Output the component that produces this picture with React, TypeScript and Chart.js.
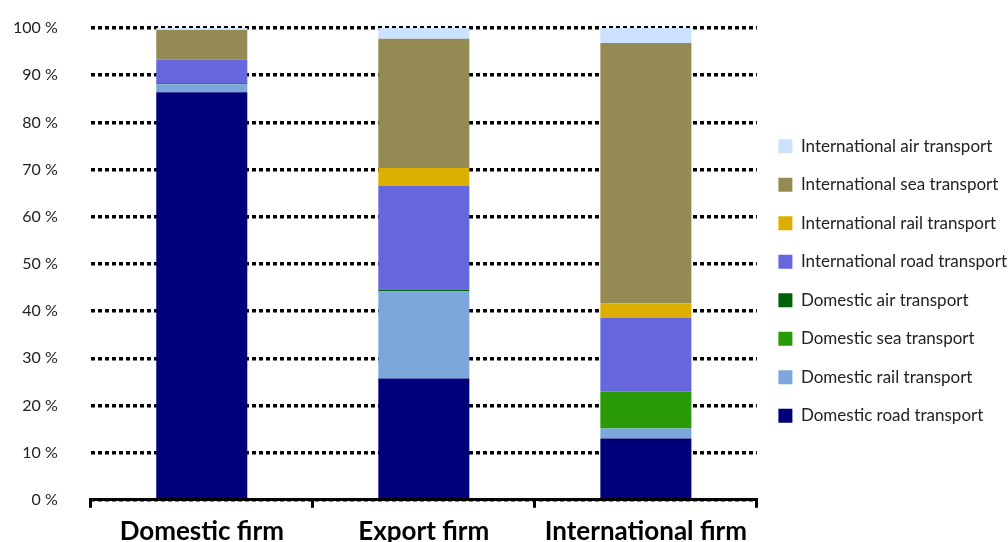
import React, { useEffect, useRef } from "react";
import { Chart, registerables } from "chart.js";

Chart.register(...registerables);

const categories = ["Domestic firm", "Export firm", "International firm"];
const seriesNames = [
  "Domestic road transport",
  "Domestic rail transport",
  "Domestic sea transport",
  "Domestic air transport",
  "International road transport",
  "International rail transport",
  "International sea transport",
  "International air transport",
];
const domesticRoad = [86.4, 25.7, 13.0];
const domesticRail = [1.7, 18.5, 2.1];
const domesticSea = [0, 0, 7.8];
const domesticAir = [0.2, 0.3, 0];
const internationalRoad = [5.0, 22.0, 15.7];
const internationalRail = [0, 3.8, 3.0];
const internationalSea = [6.3, 27.4, 55.2];
const internationalAir = [0.4, 2.3, 3.2];
const seriesColors = ["#00007A", "#7BA7DD", "#2A9A08", "#00600A", "#6666DD", "#DDAF00", "#948A54", "#CCE0FF"];
const yTicks = [0, 10, 20, 30, 40, 50, 60, 70, 80, 90, 100];

const seriesValues = [
  domesticRoad,
  domesticRail,
  domesticSea,
  domesticAir,
  internationalRoad,
  internationalRail,
  internationalSea,
  internationalAir,
];

export default function App() {
  const ref = useRef<HTMLCanvasElement | null>(null);
  useEffect(() => {
    if (!ref.current) return;
    const chart = new Chart(ref.current, {
      type: "bar",
      data: {
        labels: categories,
        datasets: seriesNames.map((name, i) => ({
          label: name,
          data: seriesValues[i],
          backgroundColor: seriesColors[i],
          borderWidth: 0,
          barPercentage: 0.41,
          categoryPercentage: 1,
        })),
      },
      options: {
        animation: false,
        responsive: true,
        maintainAspectRatio: false,
        layout: { padding: { top: 7, left: -5.4, right: -3, bottom: 0 } },
        plugins: {
          tooltip: { enabled: false },
          legend: {
            position: "right",
            reverse: true,
            labels: {
              boxWidth: 14,
              boxHeight: 14,
              padding: 21.5,
              color: "#222",
              font: { family: "Lato", size: 17 },
            },
          },
        },
        scales: {
          x: {
            stacked: true,
            grid: {
              display: true,
              offset: true,
              drawOnChartArea: false,
              drawTicks: true,
              tickLength: 8,
              color: "#000",
              lineWidth: 3,
            },
            border: { display: true, color: "#000", width: 3 },
            ticks: {
              color: "#000",
              padding: 8,
              font: { family: "Lato", size: 26, weight: "bold" },
            },
          },
          y: {
            stacked: true,
            min: 0,
            max: 100,
            afterBuildTicks: (scale: any) => {
              scale.ticks = yTicks.map((v) => ({ value: v }));
            },
            grid: {
              color: "#000",
              lineWidth: 3.5,
              drawTicks: true,
              tickLength: 14.6,
              tickColor: "rgba(0,0,0,0)",
            },
            border: { display: false, dash: [4, 3] },
            ticks: {
              color: "#222",
              padding: 18.4,
              font: { family: "Lato", size: 16 },
              callback: (v: any) => v + " %",
            },
          },
        },
      },
    });
    return () => chart.destroy();
  }, []);
  return (
    <div style={{ position: "fixed", left: 0, top: 0, width: 1008, height: 555, background: "#fff" }}>
      <canvas ref={ref} />
    </div>
  );
}
